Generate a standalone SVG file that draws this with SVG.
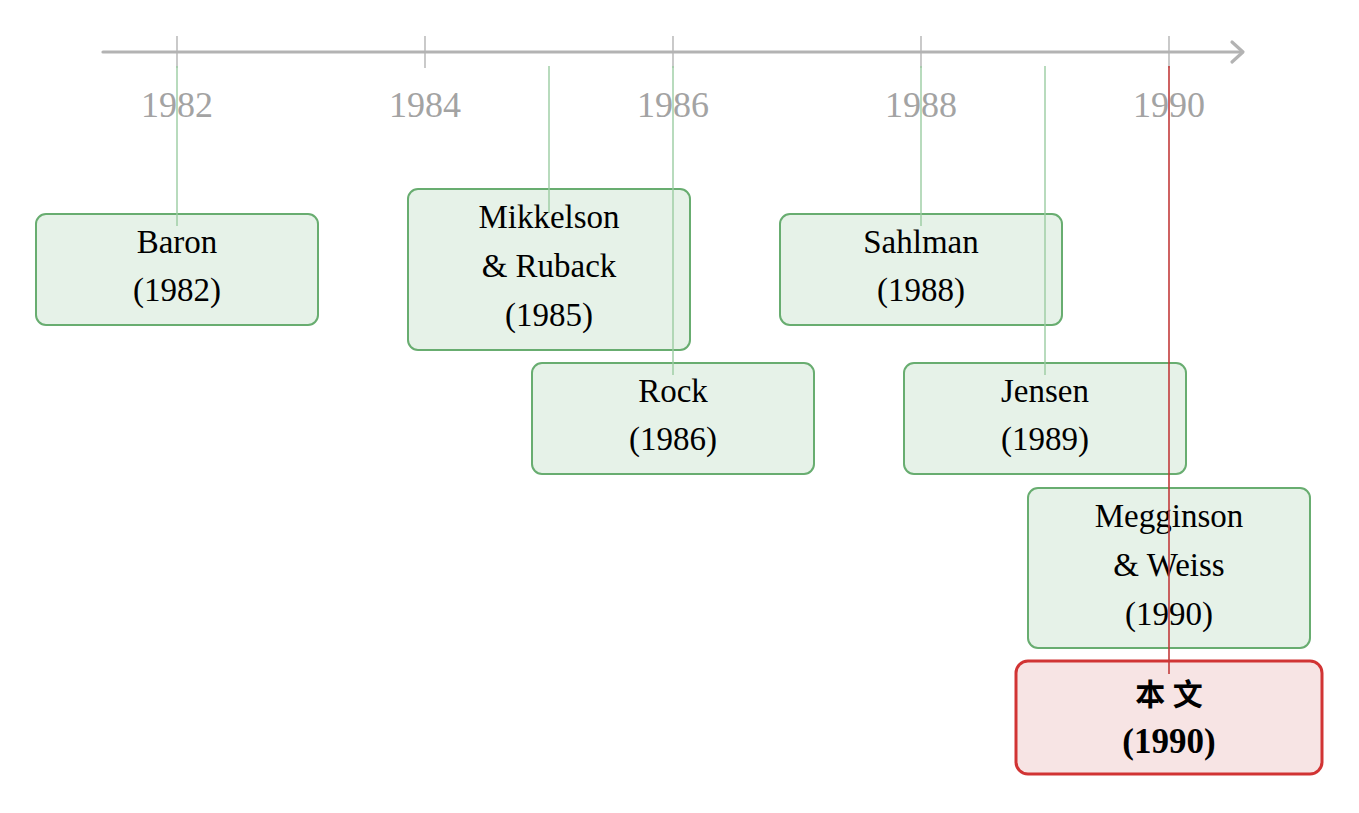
<svg xmlns="http://www.w3.org/2000/svg" width="1359" height="813" viewBox="0 0 1359 813">
<style>
.axis{stroke:#b3b3b3;stroke-width:3.2;fill:none;stroke-linecap:round;stroke-linejoin:round}
.tick{stroke:#b3b3b3;stroke-width:1.4}
.yl{font-family:"Liberation Serif",serif;font-size:36px;fill:#a3a3a3;text-anchor:middle}
.gbox{fill:#e6f2e8;stroke:#68ad70;stroke-width:2}
.rbox{fill:#f7e4e4;stroke:#d13434;stroke-width:3}
.t{font-family:"Liberation Serif",serif;font-size:33px;fill:#000;text-anchor:middle}
.tb{font-family:"Liberation Serif","Noto Sans CJK SC",serif;font-size:35px;font-weight:bold;fill:#000;text-anchor:middle}
.gc{stroke:#9acca1;stroke-width:1.4}
.rc{stroke:#c23a3a;stroke-width:1.6}
</style>
<g id="axis">
<line class="axis" x1="103" y1="52" x2="1242" y2="52"/>
<polyline class="axis" points="1232,42 1243,52 1232,62"/>
<line class="tick" x1="177" y1="36" x2="177" y2="68"/>
<line class="tick" x1="425" y1="36" x2="425" y2="68"/>
<line class="tick" x1="673" y1="36" x2="673" y2="68"/>
<line class="tick" x1="921" y1="36" x2="921" y2="68"/>
<line class="tick" x1="1169" y1="36" x2="1169" y2="68"/>
<text class="yl" x="177" y="117">1982</text>
<text class="yl" x="425" y="117">1984</text>
<text class="yl" x="673" y="117">1986</text>
<text class="yl" x="921" y="117">1988</text>
<text class="yl" x="1169" y="117">1990</text>
</g>
<g id="baron">
<rect class="gbox" x="36" y="214" width="282" height="111" rx="10"/>
<text class="t" x="177" y="253">Baron</text>
<text class="t" x="177" y="301">(1982)</text>
</g>
<g id="mikkelson">
<rect class="gbox" x="408" y="189" width="282" height="161" rx="10"/>
<text class="t" x="549" y="228">Mikkelson</text>
<text class="t" x="549" y="277">&amp; Ruback</text>
<text class="t" x="549" y="326">(1985)</text>
</g>
<g id="rock">
<rect class="gbox" x="532" y="363" width="282" height="111" rx="10"/>
<text class="t" x="673" y="402">Rock</text>
<text class="t" x="673" y="450">(1986)</text>
</g>
<g id="sahlman">
<rect class="gbox" x="780" y="214" width="282" height="111" rx="10"/>
<text class="t" x="921" y="253">Sahlman</text>
<text class="t" x="921" y="301">(1988)</text>
</g>
<g id="jensen">
<rect class="gbox" x="904" y="363" width="282" height="111" rx="10"/>
<text class="t" x="1045" y="402">Jensen</text>
<text class="t" x="1045" y="450">(1989)</text>
</g>
<g id="megginson">
<rect class="gbox" x="1028" y="488" width="282" height="160" rx="10"/>
<text class="t" x="1169" y="527">Megginson</text>
<text class="t" x="1169" y="576">&amp; Weiss</text>
<text class="t" x="1169" y="625">(1990)</text>
</g>
<g id="thispaper">
<rect class="rbox" x="1016" y="661" width="306" height="113" rx="12"/>
<text class="tb" x="1169" y="705" style="font-size:30px">本 文</text>
<text class="tb" x="1169" y="753">(1990)</text>
</g>
<g id="connectors">
<line class="gc" x1="177" y1="66" x2="177" y2="226"/>
<line class="gc" x1="549" y1="66" x2="549" y2="213"/>
<line class="gc" x1="673" y1="66" x2="673" y2="375"/>
<line class="gc" x1="921" y1="66" x2="921" y2="226"/>
<line class="gc" x1="1045" y1="66" x2="1045" y2="375"/>
<line class="rc" x1="1169" y1="66" x2="1169" y2="674"/>
</g>
</svg>
